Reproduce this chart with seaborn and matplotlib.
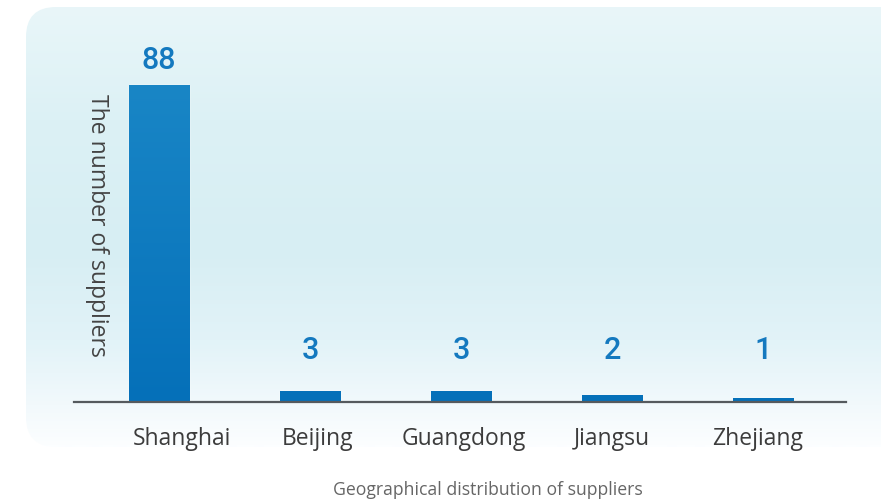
import numpy as np
import pandas as pd
import matplotlib
matplotlib.use("Agg")
import matplotlib.pyplot as plt
from matplotlib.patches import FancyBboxPatch
from matplotlib.colors import to_rgb
from matplotlib.transforms import ScaledTranslation
import seaborn as sns

# Supplier counts by region
regions = ["Shanghai", "Beijing", "Guangdong", "Jiangsu", "Zhejiang"]
suppliers = [88, 3, 3, 2, 1]
y_title = "The number of suppliers"
caption = "Geographical distribution of suppliers"

df = pd.DataFrame({"region": regions, "suppliers": suppliers})

sns.set_theme(style="white")
plt.rcParams["font.family"] = ["Open Sans", "DejaVu Sans"]

W, H = 881, 503
fig = plt.figure(figsize=(W / 100, H / 100), dpi=100)
fig.patch.set_facecolor("white")

# Soft cyan panel behind the chart, fading to white at the bottom
bg = fig.add_axes([0, 0, 1, 1])
bg.set_xlim(0, W)
bg.set_ylim(H, 0)
bg.axis("off")
stops_y = [7, 120, 250, 340, 405, 445]
stops_c = [(233, 246, 249), (220, 241, 245), (215, 238, 243), (226, 243, 248),
           (242, 249, 252), (252, 254, 255)]
rows = np.arange(H)
grad = np.zeros((H, 1, 3))
for k in range(3):
    grad[:, 0, k] = np.interp(rows, stops_y, [c[k] for c in stops_c]) / 255.0
panel = FancyBboxPatch((26, 7), 900, 440, boxstyle="round,pad=0,rounding_size=30",
                       facecolor="none", edgecolor="none", transform=bg.transData)
bg.add_patch(panel)
img = bg.imshow(grad, extent=(0, W, H, 0), aspect="auto", interpolation="bilinear")
img.set_clip_path(panel)

# Main bar axes
ax_left, ax_right = 74 / W, 846 / W
ax_bottom, ax_top = (H - 402) / H, (H - 20) / H
ax = fig.add_axes([ax_left, ax_bottom, ax_right - ax_left, ax_top - ax_bottom])
ax.patch.set_alpha(0)

sns.barplot(data=df, x="region", y="suppliers", color="#0a70b9", width=0.4,
            saturation=1, ax=ax, zorder=2)

# Vertical gradient inside each bar (lighter toward the top of the tallest bar)
top_c = np.array(to_rgb("#1986c6"))
bot_c = np.array(to_rgb("#0570b9"))
ymax = max(suppliers)
t = np.linspace(1, 0, 200)[:, None, None]
bar_grad = bot_c + (top_c - bot_c) * t
for p in ax.patches:
    x0 = p.get_x()
    x1 = x0 + p.get_width()
    gi = ax.imshow(bar_grad, extent=(x0, x1, 0, ymax), aspect="auto",
                   interpolation="bilinear", zorder=3)
    gi.set_clip_path(p)
ax.set_xlim(-0.563, 4.55)
ax.set_ylim(0, 106)

# Value labels above the bars
for i, v in enumerate(suppliers):
    ax.annotate(str(v), (i, max(v, 7.5)), xytext=(0, 7), textcoords="offset points",
                ha="center", va="bottom", fontsize=22, color="#1479bf",
                family=["Roboto", "DejaVu Sans"], fontweight="medium")

for s in ["top", "right", "left"]:
    ax.spines[s].set_visible(False)
ax.spines["bottom"].set_color("#555a5e")
ax.spines["bottom"].set_linewidth(1.6)
ax.spines["bottom"].set_zorder(4)
ax.set_yticks([])
ax.tick_params(axis="x", length=0, pad=18, labelsize=16.5, labelcolor="#3c3c3c")
ax.set_xlabel("")

# Nudge the category labels slightly to the right
label_shift_px = [23, 8, 3, 0, -5]
for lab, dx in zip(ax.get_xticklabels(), label_shift_px):
    lab.set_transform(lab.get_transform() + ScaledTranslation(dx / 100, 0, fig.dpi_scale_trans))

ax.set_ylabel(y_title, rotation=270, fontsize=16.5, color="#444444",
              va="center", ha="center")
ax.yaxis.set_label_coords((97 - 74) / (846 - 74), (402 - 225) / 382)

fig.text(488 / W, 1 - 490 / H, caption, ha="center", va="center",
         fontsize=12.7, color="#666666")

fig.savefig("out.png", dpi=100)
